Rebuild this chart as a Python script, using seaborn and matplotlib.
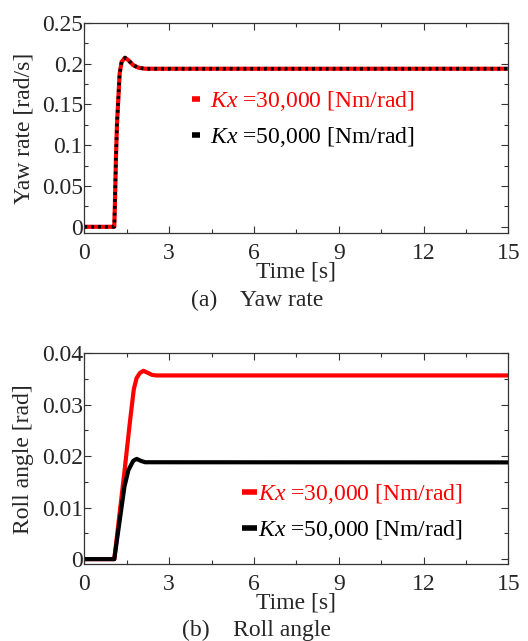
import matplotlib
matplotlib.use("Agg")
import matplotlib.pyplot as plt
from matplotlib.lines import Line2D
from matplotlib.ticker import MultipleLocator
import seaborn as sns
import pandas as pd

# ---------------- data ----------------
yaw_t = [0, 1.0, 1.06, 1.086, 1.12, 1.157, 1.2, 1.25, 1.32, 1.44, 1.56, 1.73, 1.91, 2.15, 15]
yaw_30k = [0, 0, 0, 0.0327, 0.0858, 0.1266, 0.155, 0.188, 0.202, 0.2071, 0.204, 0.198, 0.1949, 0.1936, 0.1936]
yaw_50k = [0, 0, 0, 0.0327, 0.0858, 0.1266, 0.155, 0.188, 0.202, 0.2071, 0.204, 0.198, 0.1949, 0.1936, 0.1936]

roll_t_30k = [0, 1.0, 1.06, 1.42, 1.62, 1.75, 1.85, 1.97, 2.09, 2.25, 2.4, 2.55, 15]
roll_30k = [0, 0, 0, 0.0170, 0.0270, 0.0330, 0.0352, 0.0362, 0.0366, 0.0362, 0.0358, 0.0357, 0.0357]
roll_t_50k = [0, 1.0, 1.06, 1.42, 1.56, 1.73, 1.85, 2.0, 2.15, 15]
roll_50k = [0, 0, 0, 0.0141, 0.0173, 0.0191, 0.01948, 0.0191, 0.01883, 0.0188]

labels = [r"$\mathit{Kx}$ =30,000 [Nm/rad]", r"$\mathit{Kx}$ =50,000 [Nm/rad]"]
colors = ["#ff0000", "#000000"]
x_ticks = [0, 3, 6, 9, 12, 15]

yaw_df = pd.concat([
    pd.DataFrame({"t": yaw_t, "v": yaw_30k, "s": labels[0]}),
    pd.DataFrame({"t": yaw_t, "v": yaw_50k, "s": labels[1]}),
])
roll_df = pd.concat([
    pd.DataFrame({"t": roll_t_30k, "v": roll_30k, "s": labels[0]}),
    pd.DataFrame({"t": roll_t_50k, "v": roll_50k, "s": labels[1]}),
])

# ---------------- style ----------------
sns.set_theme(style="ticks")
plt.rcParams["font.family"] = ["Liberation Serif", "DejaVu Serif"]
plt.rcParams["mathtext.fontset"] = "custom"
plt.rcParams["mathtext.rm"] = "Liberation Serif"
plt.rcParams["mathtext.it"] = "Liberation Serif:italic"
FS = 17

fig = plt.figure(figsize=(5.28, 6.41), dpi=100)
ax1 = fig.add_axes([0.1597, 0.636, 0.803, 0.3286])
ax2 = fig.add_axes([0.1597, 0.1197, 0.803, 0.3291])

# yaw rate: red solid with black dotted on top
sns.lineplot(data=yaw_df[yaw_df.s == labels[0]], x="t", y="v", color=colors[0],
             lw=3, ax=ax1, legend=False, sort=False)
sns.lineplot(data=yaw_df[yaw_df.s == labels[1]], x="t", y="v", color=colors[1],
             lw=2.6, ax=ax1, legend=False, sort=False)
ax1.lines[-1].set_linestyle((0, (0.8, 1.1)))

sns.lineplot(data=roll_df[roll_df.s == labels[0]], x="t", y="v", color=colors[0],
             lw=3, ax=ax2, legend=False, sort=False)
sns.lineplot(data=roll_df[roll_df.s == labels[1]], x="t", y="v", color=colors[1],
             lw=3, ax=ax2, legend=False, sort=False)

def style(ax, ylim, minor, yticks, ylabels, ylabel):
    ax.set_xlim(0, 15)
    ax.set_ylim(*ylim)
    ax.set_xticks(x_ticks)
    ax.set_xticklabels([str(v) for v in x_ticks], fontsize=FS)
    ax.xaxis.set_minor_locator(MultipleLocator(1.5))
    ax.set_yticks(yticks)
    ax.set_yticklabels(ylabels, fontsize=FS)
    ax.yaxis.set_minor_locator(MultipleLocator(minor))
    ax.tick_params(which="both", direction="in", top=True, right=True, color="#333333")
    ax.tick_params(which="major", length=5, width=0.8)
    ax.tick_params(which="minor", length=3, width=0.8)
    ax.tick_params(axis="y", which="major", pad=1)
    ax.tick_params(axis="x", which="major", pad=7)
    for sp in ax.spines.values():
        sp.set_color("#333333")
        sp.set_linewidth(0.9)
    ax.set_xlabel("Time [s]", fontsize=FS, labelpad=-1.5)
    ax.set_ylabel(ylabel, fontsize=FS, labelpad=5.5)

style(ax1, (-0.008, 0.25), 0.025,
      [0, 0.05, 0.1, 0.15, 0.2, 0.25], ["0", "0.05", "0.1", "0.15", "0.2", "0.25"],
      "Yaw rate [rad/s]")
style(ax2, (-0.001, 0.04), 0.005,
      [0, 0.01, 0.02, 0.03, 0.04], ["0", "0.01", "0.02", "0.03", "0.04"],
      "Roll angle [rad]")

def add_legend(ax, anchor, hl, tp):
    handles = [Line2D([], [], color=c, lw=4, solid_capstyle="butt") for c in colors]
    leg = ax.legend(handles, labels, loc="upper left", bbox_to_anchor=anchor,
                    frameon=False, fontsize=FS, handlelength=hl, handletextpad=tp,
                    labelspacing=0.52, borderaxespad=0, borderpad=0)
    for txt, c in zip(leg.get_texts(), colors):
        txt.set_color(c)
    return leg

add_legend(ax1, ((191.5 - 84.3) / 424, (233.3 - 89) / 210.6), 0.36, 0.42)
add_legend(ax2, ((242 - 84.3) / 424, (564.3 - 482) / 211), 0.64, 0.05)

fig.text(257 / 528, 1 - 300 / 641, "(a)    Yaw rate", fontsize=FS, ha="center", va="center")
fig.text(257 / 528, 1 - 630 / 641, "(b)    Roll angle", fontsize=FS, ha="center", va="center")

fig.savefig("out.png", dpi=100)
